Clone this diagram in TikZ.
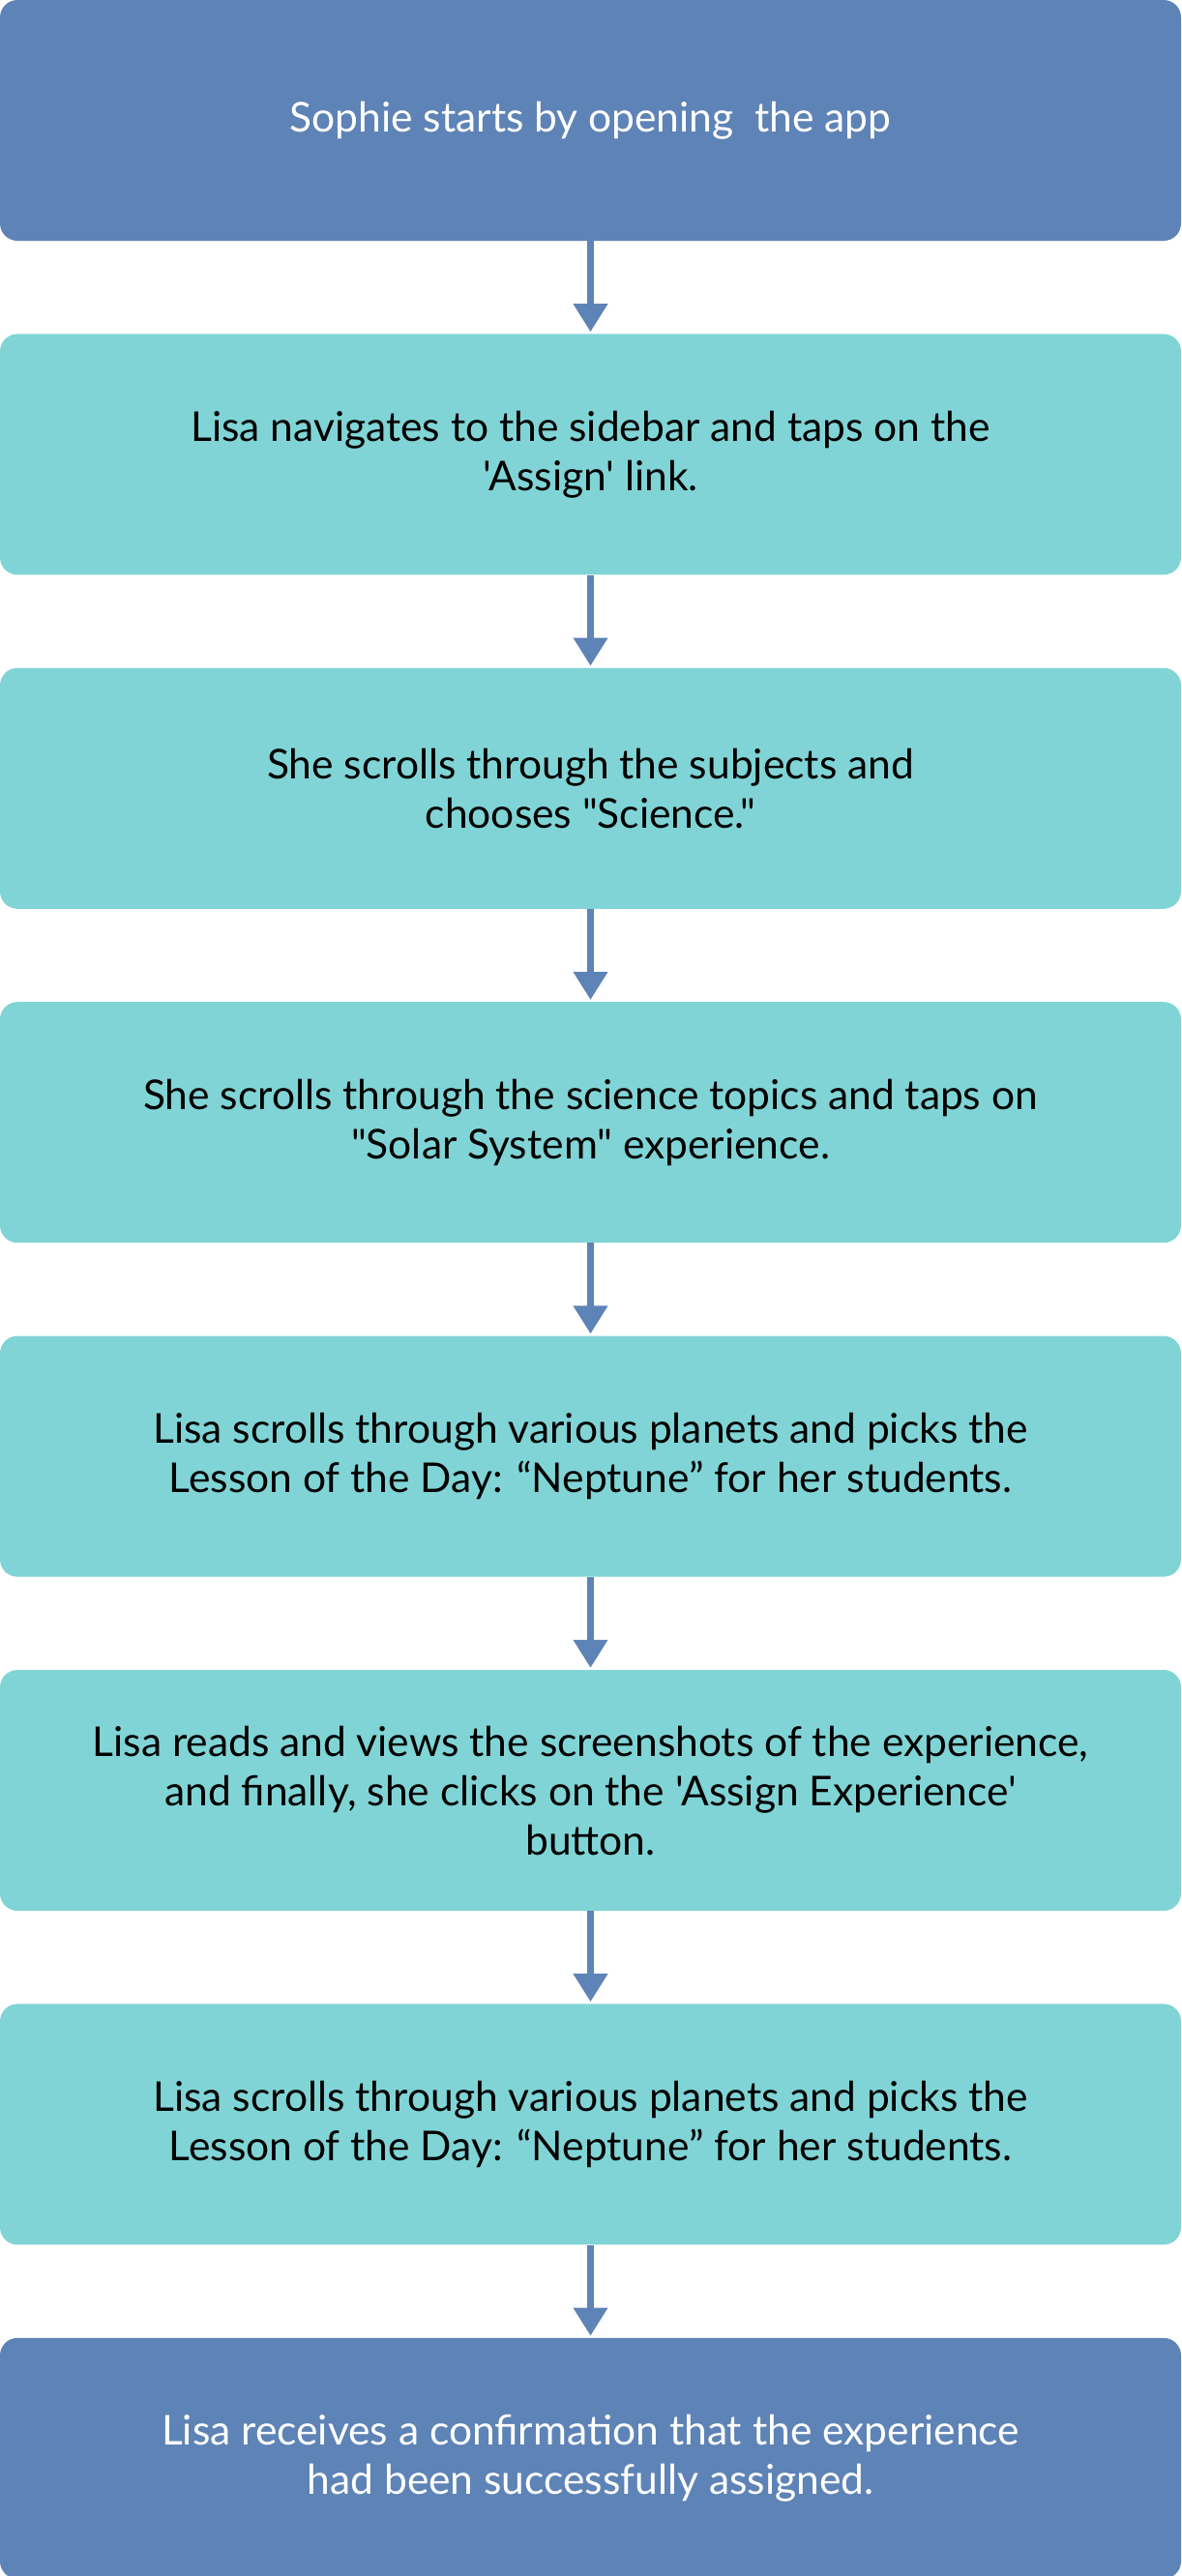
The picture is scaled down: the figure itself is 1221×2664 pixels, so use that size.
\documentclass[tikz,border=0pt]{standalone}
\usepackage{fontspec}
\newfontfamily\stepfont{Lato}
\usetikzlibrary{positioning,arrows.meta}
\definecolor{stepblue}{RGB}{94,131,182}
\definecolor{stepteal}{RGB}{128,212,214}

\begin{document}
\begin{tikzpicture}[x=1pt, y=1pt,
    box/.style={rectangle, rounded corners=18pt, minimum width=1221pt, minimum height=249pt,
        inner sep=0pt, align=center, font=\stepfont\fontsize{42.5}{51}\selectfont},
    endbox/.style={box, fill=stepblue, text=white},
    midbox/.style={box, fill=stepteal, text=black},
    flow/.style={-{Triangle[width=34pt, length=29pt]}, line width=7pt, draw=stepblue, shorten >=2pt}]
    \useasboundingbox (0,0) rectangle (1221,-2664);

    % Steps
    \node[endbox] (open) at (610.5,-124.5) {Sophie starts by opening\ \ the app};
    \node[midbox, below=96pt of open] (sidebar) {Lisa navigates to the sidebar and taps on the\\'Assign' link.};
    \node[midbox, below=96pt of sidebar] (subject) {She scrolls through the subjects and\\chooses "Science."};
    \node[midbox, below=96pt of subject] (topic) {She scrolls through the science topics and taps on\\"Solar System" experience.};
    \node[midbox, below=96pt of topic] (planet) {Lisa scrolls through various planets and picks the\\Lesson of the Day: “Neptune” for her students.};
    \node[midbox, below=96pt of planet] (assign) {Lisa reads and views the screenshots of the experience,\\and finally, she clicks on the 'Assign Experience'\\button.};
    \node[midbox, below=96pt of assign] (planet2) {Lisa scrolls through various planets and picks the\\Lesson of the Day: “Neptune” for her students.};
    \node[endbox, below=96pt of planet2] (confirm) {Lisa receives a confirmation that the experience\\had been successfully assigned.};

    % Arrows
    \draw[flow] (open) -- (sidebar);
    \draw[flow] (sidebar) -- (subject);
    \draw[flow] (subject) -- (topic);
    \draw[flow] (topic) -- (planet);
    \draw[flow] (planet) -- (assign);
    \draw[flow] (assign) -- (planet2);
    \draw[flow] (planet2) -- (confirm);
\end{tikzpicture}
\end{document}
